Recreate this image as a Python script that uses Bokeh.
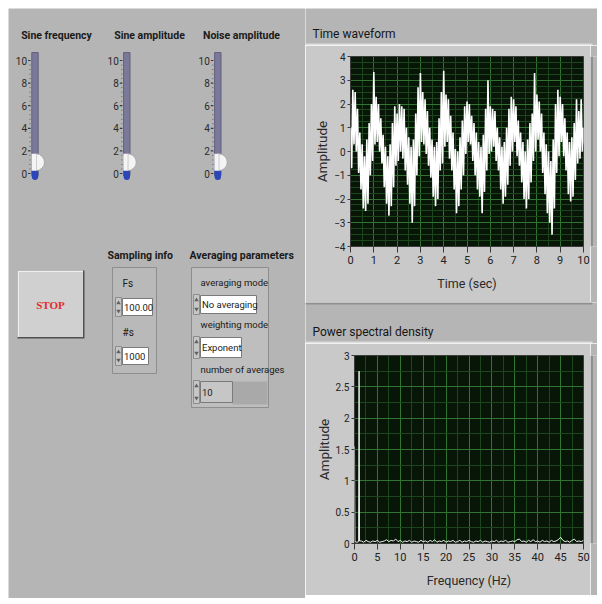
import math
from bokeh.plotting import figure
from bokeh.models import Range1d, FixedTicker, Spacer
from bokeh.layouts import row, column
from bokeh.embed import file_html
from bokeh.resources import INLINE
from bokeh.core.properties import value

# ---------------- data ----------------
slider_titles = ["Sine frequency", "Sine amplitude", "Noise amplitude"]
slider_values = [1.0, 1.0, 1.0]
slider_tick_values = [0, 2, 4, 6, 8, 10]
slider_tick_labels = ["0", "2", "4", "6", "8", "10"]

stop_label = "STOP"
sampling_title = "Sampling info"
sampling_labels = ["Fs", "#s"]
sampling_values = ["100.00", "1000"]
averaging_title = "Averaging parameters"
averaging_labels = ["averaging mode", "weighting mode", "number of averages"]
averaging_values = ["No averaging", "Exponent", "10"]

wave_title = "Time waveform"
wave_xlabel = "Time (sec)"
wave_ylabel = "Amplitude"
wave_t = [round(0.1 * i, 1) for i in range(101)]
wave_hi = [1.0, 2.6, 2.5, 1.8, 0.8, 0.3, -0.2, 0.5, 1.2, 2.0,
           3.35, 2.3, 2.0, 1.4, 0.7, 0.2, -0.2, 0.3, 1.2, 1.9,
           1.6, 2.0, 1.9, 1.8, 1.0, 0.6, 0.2, 0.5, 1.6, 2.7,
           3.3, 2.5, 2.2, 1.7, 1.0, 0.5, 0.2, 0.4, 1.4, 2.5,
           3.4, 2.4, 2.2, 1.5, 0.8, 0.1, 0.0, 0.6, 1.3, 1.9,
           2.1, 2.0, 1.5, 1.2, 0.8, 0.4, 0.2, 0.7, 1.8, 3.0,
           1.9, 1.8, 1.7, 1.0, 0.6, 0.2, 0.4, 1.0, 1.8, 2.3,
           2.2, 1.9, 1.3, 0.8, 0.4, 0.0, 0.5, 1.2, 1.6, 3.3,
           2.4, 2.1, 1.6, 0.8, 0.3, 0.0, -0.4, 0.5, 2.0, 2.6,
           2.3, 2.0, 1.4, 0.8, 0.4, 0.6, 1.2, 2.2, 1.7, 2.2,
           1.0]
wave_lo = [-0.7, 0.3, 0.0, -0.9, -1.6, -2.4, -2.5, -2.2, -1.0, -0.4,
           0.3, 0.4, 0.0, -0.5, -1.5, -2.2, -2.7, -2.3, -1.5, -0.6,
           -0.4, 0.0, -0.3, -0.8, -1.4, -2.2, -3.0, -2.3, -1.0, -0.2,
           0.4, 0.3, -0.1, -0.6, -1.1, -1.9, -2.3, -2.0, -0.8, -0.5,
           0.2, 0.4, -0.3, -0.8, -1.6, -2.6, -2.3, -1.6, -1.0, -0.1,
           0.4, 0.3, -0.4, -1.0, -1.6, -1.9, -2.6, -1.7, -0.8, -0.1,
           0.0, 0.2, -0.4, -0.8, -1.6, -2.2, -1.9, -1.4, -0.6, 0.0,
           0.4, -0.2, -0.6, -1.3, -2.0, -2.4, -2.0, -1.3, -0.4, 0.0,
           0.5, 0.0, -0.9, -1.8, -2.6, -3.0, -3.5, -2.4, -0.9, -0.2,
           0.4, -0.2, -0.8, -1.8, -2.1, -1.9, -1.2, -0.5, -0.3, 0.0,
           0.3]
wave_xticks = [0, 1, 2, 3, 4, 5, 6, 7, 8, 9, 10]
wave_yticks = [-4, -3, -2, -1, 0, 1, 2, 3, 4]

psd_title = "Power spectral density"
psd_xlabel = "Frequency (Hz)"
psd_ylabel = "Amplitude"
psd_freq_low = [0.0, 0.1, 0.5, 0.9, 1.0, 1.1]
psd_val_low = [1.55, 0.03, 0.02, 0.03, 2.75, 0.04]
psd_floor_start, psd_floor_step = 1.5, 0.5
psd_floor = [0.04, 0.02, 0.05, 0.03, 0.02, 0.04, 0.03, 0.05, 0.02, 0.03,
             0.04, 0.06, 0.03, 0.05, 0.04, 0.07, 0.03, 0.05, 0.02, 0.04,
             0.03, 0.05, 0.02, 0.04, 0.03, 0.02, 0.05, 0.03, 0.04, 0.02,
             0.05, 0.03, 0.06, 0.02, 0.04, 0.03, 0.05, 0.02, 0.04, 0.03,
             0.05, 0.02, 0.03, 0.05, 0.02, 0.04, 0.03, 0.05, 0.03, 0.02,
             0.04, 0.03, 0.05, 0.02, 0.04, 0.03, 0.02, 0.04, 0.03, 0.05,
             0.02, 0.04, 0.03, 0.05, 0.02, 0.03, 0.04, 0.03, 0.06, 0.07,
             0.03, 0.04, 0.02, 0.05, 0.03, 0.06, 0.03, 0.04, 0.02, 0.05,
             0.03, 0.04, 0.02, 0.05, 0.03, 0.04, 0.06, 0.10, 0.05, 0.03,
             0.04, 0.02, 0.05, 0.07, 0.03, 0.04, 0.03, 0.05]
psd_xticks = [0, 5, 10, 15, 20, 25, 30, 35, 40, 45, 50]
psd_yticks = [0, 0.5, 1, 1.5, 2, 2.5, 3]
psd_ytick_labels = ["0", "0.5", "1", "1.5", "2", "2.5", "3"]

# ---------------- style ----------------
FONT = "Roboto"
PANEL = "#b5b5b5"
FRAME = "#c9c9c9"
PLOT_BG = "#081608"
GRID = "#317331"
MINOR = "#1e461e"
TXT = "#1a1a1a"
DARK_BEVEL = "#8f8f8f"
LIGHT_BEVEL = "#dedede"


def tile(w, h):
    t = figure(width=w, height=h, x_range=Range1d(0, w), y_range=Range1d(h, 0),
               output_backend="svg", toolbar_location=None,
               x_axis_location=None, y_axis_location=None, min_border=0,
               background_fill_color=PANEL, border_fill_color=PANEL, outline_line_color=None)
    t.grid.grid_line_color = None
    return t


def put_text(f, x, y, s, size="10px", align="left", color=TXT, style="normal", font=FONT):
    f.text([x], [y], [s], text_align=align, text_baseline="middle",
           text_font=value(font), text_font_size=size, text_color=color,
           text_font_style=style)


def put_box(f, l, r, t, b, fill, line=None, lw=1):
    f.quad(left=[l], right=[r], top=[t], bottom=[b], fill_color=fill,
           line_color=line, line_width=lw)


# ---------------- left control panel (reference pixel coords) ----------------
L = figure(width=297, height=590, x_range=Range1d(8, 305), y_range=Range1d(598, 8),
           output_backend="svg", toolbar_location=None,
           x_axis_location=None, y_axis_location=None, min_border=0,
           background_fill_color=PANEL, border_fill_color=PANEL, outline_line_color=None)
L.grid.grid_line_color = None

sl_x = [34.5, 126.3, 217.3]
sl_title_x = [56, 149, 241]
SL0, SL10 = 173.0, 60.0


def sy(v):
    return SL0 + (SL10 - SL0) * v / 10.0


for i, title in enumerate(slider_titles):
    c = sl_x[i]
    v = slider_values[i]
    put_text(L, sl_title_x[i], 35, title, size="10.5px", align="center", style="bold")
    put_box(L, c - 3.2, c + 3.2, 52, 175, "#7b7999", "#63617f")
    put_box(L, c - 3.2, c + 3.2, sy(v), 176, "#2c46b8", None)
    L.ellipse([c], [176], width=6.4, height=7, fill_color="#2c46b8", line_color=None)
    for k in range(26):
        tv = 0.4 * k
        if k % 5 == 0:
            continue
        L.segment([c - 5.6], [sy(tv)], [c - 4.4], [sy(tv)], line_color="#6a6a6a", line_width=1)
    for tv, tl in zip(slider_tick_values, slider_tick_labels):
        L.segment([c - 7], [sy(tv)], [c - 4.4], [sy(tv)], line_color="#3a3a3a", line_width=1.2)
        put_text(L, c - 8, sy(tv), tl, size="10px", align="right", color="#2a2a2a")
    L.wedge([c + 1], [sy(v)], radius=8.5, start_angle=-math.pi / 2, end_angle=math.pi / 2,
            fill_color="#f4f4f4", line_color="#a8a8a8")
    put_box(L, c - 3.5, c + 1, sy(v) - 8.5, sy(v) + 8.5, "#f4f4f4", None)

# STOP button
put_box(L, 17, 84, 270, 338, "#505050")
put_box(L, 17, 82.5, 270, 336.5, "#efefef")
put_box(L, 18.5, 82.5, 271.5, 336.5, "#d0d0d0")
put_text(L, 50, 304, stop_label, size="11px", align="center", color="#e02a32", style="bold",
         font="Liberation Serif")


def field(l, r, t, b, s, fill="white"):
    put_box(L, l - 7, l - 1, t - 1, b + 1, "#c6c6c6", "#8c8c8c")
    L.scatter([l - 4], [t + 4.5], marker="triangle", size=4.5, fill_color="#606060", line_color=None)
    L.scatter([l - 4], [b - 4.5], marker="inverted_triangle", size=4.5, fill_color="#606060",
              line_color=None)
    put_box(L, l, r, t, b, fill, "#7a7a7a")
    put_text(L, l + 1.5, (t + b) / 2, s, size="9.5px")


put_text(L, 107, 255, sampling_title, size="10.5px", style="bold")
put_box(L, 112, 156, 267, 373, "#b9b9b9", "#8e8e8e")
samp_rows = [(283, 298, 315, 152), (332, 347, 364, 148)]
for (ly, ft, fb, fr), lab, val in zip(samp_rows, sampling_labels, sampling_values):
    put_text(L, 122, ly, lab, size="10px")
    field(122, fr, ft, fb, val)

put_text(L, 189, 255, averaging_title, size="10.5px", style="bold")
put_box(L, 191, 268, 267, 407, "#bebebe", "#8e8e8e")
avg_rows = [(282, 295, 313, 256, "white"), (324, 337, 357, 241, "white"),
            (369, 381, 402, 232, "#c6c6c6")]
put_box(L, 232, 267, 381, 404, "#a9a9a9", None)
for (ly, ft, fb, fr, fc), lab, val in zip(avg_rows, averaging_labels, averaging_values):
    put_text(L, 200, ly, lab, size="9.5px")
    field(200, fr, ft, fb, val, fill=fc)


# ---------------- graphs ----------------
def make_graph(w, h, xr, yr, borders, xticks, xminor, yticks, yminor, xlabel, ylabel):
    bl, br, bt, bb = borders
    g = figure(width=w, height=h, x_range=Range1d(*xr), y_range=Range1d(*yr),
               output_backend="svg", toolbar_location=None,
               min_border_left=bl, min_border_right=br, min_border_top=bt, min_border_bottom=bb,
               background_fill_color=PLOT_BG, border_fill_color=FRAME,
               outline_line_color="#3c3c3c")
    g.xaxis.ticker = FixedTicker(ticks=xticks, minor_ticks=xminor)
    g.yaxis.ticker = FixedTicker(ticks=yticks, minor_ticks=yminor)
    for ax in g.axis:
        ax.axis_line_color = None
        ax.major_tick_line_color = "#3a3a3a"
        ax.minor_tick_line_color = None
        ax.major_tick_in = 0
        ax.major_label_text_font = FONT
        ax.major_label_text_color = "#222222"
        ax.axis_label_text_font = FONT
        ax.axis_label_text_font_style = "normal"
        ax.axis_label_text_color = "#2a2a2a"
    g.xaxis.major_tick_out = 6
    g.xaxis.major_label_standoff = 3
    g.xaxis.major_label_text_font_size = "11px"
    g.xaxis.axis_label = xlabel
    g.xaxis.axis_label_standoff = 9
    g.xaxis.axis_label_text_font_size = "12.5px"
    g.yaxis.major_tick_out = 3
    g.yaxis.major_label_standoff = 1
    g.yaxis.major_label_text_font_size = "10px"
    g.yaxis.axis_label = ylabel
    g.yaxis.axis_label_standoff = 1
    g.yaxis.axis_label_text_font_size = "13.5px"
    for gr in (g.xgrid, g.ygrid):
        gr.grid_line_color = GRID
        gr.grid_line_width = 1
        gr.minor_grid_line_color = MINOR
    return g


wave_xminor = [0.5 * k for k in range(21)]
wave_yminor = [-4 + 0.25 * k for k in range(33)]
g1 = make_graph(285, 257, (0, 10), (-4, 4), (45, 7, 11, 56), wave_xticks, wave_xminor,
                wave_yticks, wave_yminor, wave_xlabel, wave_ylabel)
xs, ys = [], []
for t, hi, lo in zip(wave_t, wave_hi, wave_lo):
    xs += [t, t + 0.05]
    ys += [hi, lo]
g1.line(xs, ys, line_color="white", line_width=1.6)

psd_freq = psd_freq_low + [psd_floor_start + psd_floor_step * k for k in range(len(psd_floor))]
psd_vals = psd_val_low + psd_floor
psd_xminor = [2.5 * k for k in range(21)]
psd_yminor = [0.25 * k for k in range(13)]
g2 = make_graph(285, 252, (0, 50), (0, 3), (49, 7, 12, 52), psd_xticks, psd_xminor,
                psd_yticks, psd_yminor, psd_xlabel, psd_ylabel)
g2.yaxis.major_label_overrides = {t: s for t, s in zip(psd_yticks, psd_ytick_labels)}
g2.line(psd_freq, psd_vals, line_color="#f0f0f0", line_width=1)

# panel tiles around the graph frames
T1 = tile(292, 37)
put_box(T1, 0, 287, 35, 37, LIGHT_BEVEL)
put_text(T1, 7, 25, wave_title, size="12px", color="#151515")

R1 = tile(7, 257)
put_box(R1, 0, 2.5, 0, 257, DARK_BEVEL)

T2 = tile(292, 41)
put_box(T2, 0, 287, 0, 2, DARK_BEVEL)
put_box(T2, 0, 287, 39, 41, LIGHT_BEVEL)
put_text(T2, 7, 29, psd_title, size="12px", color="#151515")

R2 = tile(7, 252)
put_box(R2, 0, 2.5, 0, 252, DARK_BEVEL)

B2 = tile(292, 3)
put_box(B2, 0, 287, 0, 2, DARK_BEVEL)

right = column(T1, row(g1, R1, spacing=0), T2, row(g2, R2, spacing=0), B2, spacing=0)
panel = row(L, right, spacing=0)
layout = column(Spacer(height=8), row(Spacer(width=8), panel, spacing=0), spacing=0)
open("out.html", "w").write(file_html(layout, INLINE))
